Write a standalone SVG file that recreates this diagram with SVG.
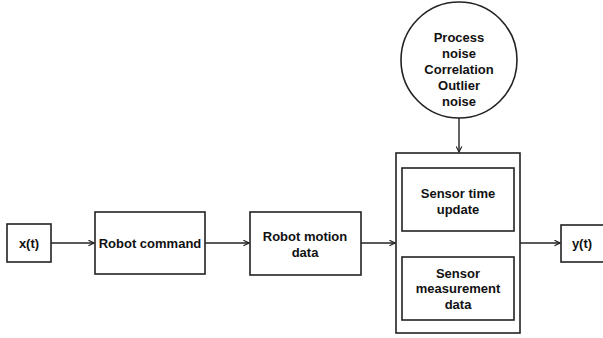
<svg xmlns="http://www.w3.org/2000/svg" width="603" height="338" viewBox="0 0 603 338">
<style>
.b{fill:#fff;stroke:#222;stroke-width:1.6}
.t{font-family:"Liberation Sans",Arial,sans-serif;font-weight:bold;font-size:13px;fill:#111;text-anchor:middle;dominant-baseline:central}
.c{stroke:#222;stroke-width:1.4;fill:none;marker-end:url(#a)}
</style>
<defs>
<marker id="a" viewBox="0 0 10 10" refX="9" refY="5" markerWidth="7" markerHeight="7" markerUnits="userSpaceOnUse" orient="auto">
<path d="M1,1 L9,5 L1,9" fill="none" stroke="#222" stroke-width="1.6"/>
</marker>
</defs>
<rect width="603" height="338" fill="#fff"/>
<g id="connectors">
<line class="c" x1="51" y1="243" x2="94" y2="243"/>
<line class="c" x1="205" y1="243" x2="249" y2="243"/>
<line class="c" x1="361" y1="243" x2="395" y2="243"/>
<line class="c" x1="520" y1="243" x2="560" y2="243"/>
<line class="c" x1="459" y1="118" x2="459" y2="152"/>
</g>
<g id="xt"><rect class="b" x="7" y="224" width="44" height="38"/><text class="t" x="29" y="243">x(t)</text></g>
<g id="robot-command"><rect class="b" x="95" y="212" width="110" height="62"/><text class="t" x="150" y="243">Robot command</text></g>
<g id="robot-motion"><rect class="b" x="250" y="212" width="111" height="63"/><text class="t" x="305" y="236">Robot motion</text><text class="t" x="305" y="252">data</text></g>
<g id="noise"><ellipse class="b" cx="459" cy="60" rx="58" ry="58"/>
<text class="t" x="459" y="37">Process</text><text class="t" x="459" y="53">noise</text><text class="t" x="459" y="69">Correlation</text><text class="t" x="459" y="85">Outlier</text><text class="t" x="459" y="101">noise</text></g>
<g id="sensor"><rect class="b" x="396" y="153" width="124" height="180"/></g>
<g id="sensor-time"><rect class="b" x="402" y="168" width="112" height="63"/><text class="t" x="458" y="193">Sensor time</text><text class="t" x="458" y="209">update</text></g>
<g id="sensor-meas"><rect class="b" x="402" y="257" width="112" height="63"/><text class="t" x="458" y="273">Sensor</text><text class="t" x="458" y="288">measurement</text><text class="t" x="458" y="304">data</text></g>
<g id="yt"><rect class="b" x="561" y="225" width="44" height="37"/><text class="t" x="582" y="243">y(t)</text></g>
</svg>
